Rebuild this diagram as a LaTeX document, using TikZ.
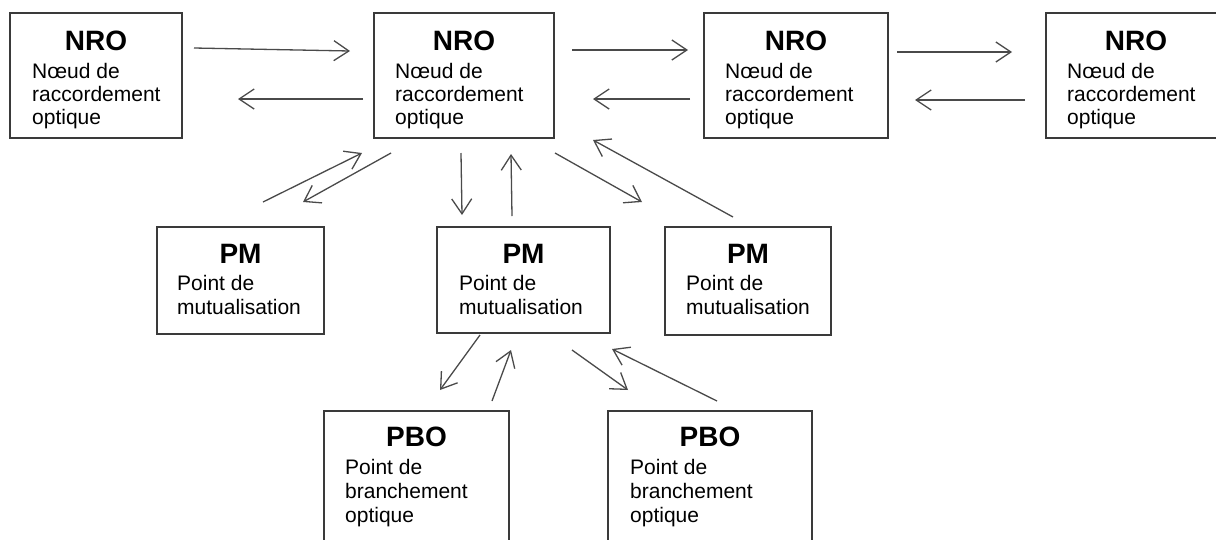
\documentclass[tikz,border=0pt]{standalone}
\usepackage{fontspec}
\setmainfont{Liberation Sans}
\usetikzlibrary{arrows.meta,calc}
\definecolor{boxline}{HTML}{3A3A3A}
\definecolor{arrline}{HTML}{4A4A4A}
\begin{document}
\begin{tikzpicture}[x=1pt,y=-1pt,
  unit/.style={draw=boxline, line width=1.5pt, rectangle, anchor=north west, inner sep=0pt, outer sep=0pt},
  ttl/.style={font=\fontsize{28}{30}\selectfont\bfseries, anchor=base, inner sep=0pt},
  txt/.style={font=\fontsize{21}{23}\selectfont, anchor=base west, inner sep=0pt},
  arr/.style={draw=arrline, line width=1.3pt, -{Straight Barb[length=15pt,width=20pt,line width=1.3pt]}}]
\useasboundingbox (0,0) rectangle (1216,539);
\fill[white] (0,0) rectangle (1216,539);
\clip (0,0) rectangle (1216,539);
% boxes
\node[unit, minimum width=172pt, minimum height=125pt] (nro1) at (10,13) {};
\node[unit, minimum width=180pt, minimum height=125pt] (nro2) at (374,13) {};
\node[unit, minimum width=184pt, minimum height=125pt] (nro3) at (704,13) {};
\node[unit, minimum width=180pt, minimum height=125pt] (nro4) at (1046,13) {};
\node[unit, minimum width=167pt, minimum height=107pt] (pm1) at (157,227) {};
\node[unit, minimum width=173pt, minimum height=106pt] (pm2) at (437,227) {};
\node[unit, minimum width=166pt, minimum height=108pt] (pm3) at (665,227) {};
\node[unit, minimum width=185pt, minimum height=160pt] (pbo1) at (324,411) {};
\node[unit, minimum width=204pt, minimum height=160pt] (pbo2) at (608,411) {};
% NRO texts
\node[ttl] (nro1t) at (96,50) {NRO};
\node[txt] (nro1a) at (32,78) {Nœud de};
\node[txt] (nro1b) at (32,101) {raccordement};
\node[txt] (nro1c) at (32,124) {optique};
\node[ttl] (nro2t) at (464,50) {NRO};
\node[txt] (nro2a) at (395,78) {Nœud de};
\node[txt] (nro2b) at (395,101) {raccordement};
\node[txt] (nro2c) at (395,124) {optique};
\node[ttl] (nro3t) at (796,50) {NRO};
\node[txt] (nro3a) at (725,78) {Nœud de};
\node[txt] (nro3b) at (725,101) {raccordement};
\node[txt] (nro3c) at (725,124) {optique};
\node[ttl] (nro4t) at (1136,50) {NRO};
\node[txt] (nro4a) at (1067,78) {Nœud de};
\node[txt] (nro4b) at (1067,101) {raccordement};
\node[txt] (nro4c) at (1067,124) {optique};
% PM texts
\node[ttl] (pm1t) at (240.5,263) {PM};
\node[txt] (pm1a) at (177,290) {Point de};
\node[txt] (pm1b) at (177,314) {mutualisation};
\node[ttl] (pm2t) at (523.5,263) {PM};
\node[txt] (pm2a) at (459,290) {Point de};
\node[txt] (pm2b) at (459,314) {mutualisation};
\node[ttl] (pm3t) at (748,263) {PM};
\node[txt] (pm3a) at (686,290) {Point de};
\node[txt] (pm3b) at (686,314) {mutualisation};
% PBO texts
\node[ttl] (pbo1t) at (416.5,446) {PBO};
\node[txt] (pbo1a) at (345,474) {Point de};
\node[txt] (pbo1b) at (345,498) {branchement};
\node[txt] (pbo1c) at (345,522) {optique};
\node[ttl] (pbo2t) at (710,446) {PBO};
\node[txt] (pbo2a) at (630,474) {Point de};
\node[txt] (pbo2b) at (630,498) {branchement};
\node[txt] (pbo2c) at (630,522) {optique};
% arrows between NRO
\draw[arr] ($(nro1.north east)+(12,35)$) -- ($(nro2.north west)+(-24,38)$);
\draw[arr] ($(nro2.north west)+(-11,86)$) -- ($(nro1.north east)+(56,86)$);
\draw[arr] ($(nro2.north east)+(18,37)$) -- ($(nro3.north west)+(-16,37)$);
\draw[arr] ($(nro3.north west)+(-14,86)$) -- ($(nro2.north east)+(39,86)$);
\draw[arr] ($(nro3.north east)+(9,39)$) -- ($(nro4.north west)+(-34,39)$);
\draw[arr] ($(nro4.north west)+(-21,87)$) -- ($(nro3.north east)+(27,87)$);
% NRO <-> PM
\draw[arr] ($(pm1.north west)+(106,-25)$) -- ($(nro2.south west)+(-12,15)$);
\draw[arr] ($(nro2.south west)+(17,15)$) -- ($(pm1.north west)+(146,-25)$);
\draw[arr] ($(nro2.south west)+(87,15)$) -- ($(pm2.north west)+(25,-12)$);
\draw[arr] ($(pm2.north west)+(75,-11)$) -- ($(nro2.south west)+(137,16)$);
\draw[arr] ($(nro2.south east)+(1,15)$) -- ($(pm3.north west)+(-23,-25)$);
\draw[arr] ($(pm3.north west)+(68,-10)$) -- ($(nro2.south east)+(39,2)$);
% PM <-> PBO
\draw[arr] ($(pm2.south west)+(43,2)$) -- ($(pbo1.north west)+(116,-21)$);
\draw[arr] ($(pbo1.north west)+(168,-10)$) -- ($(pm2.south west)+(74,17)$);
\draw[arr] ($(pm2.south east)+(-38,17)$) -- ($(pbo2.north west)+(20,-21)$);
\draw[arr] ($(pbo2.north west)+(109,-10)$) -- ($(pm2.south east)+(2,16)$);
\end{tikzpicture}
\end{document}
